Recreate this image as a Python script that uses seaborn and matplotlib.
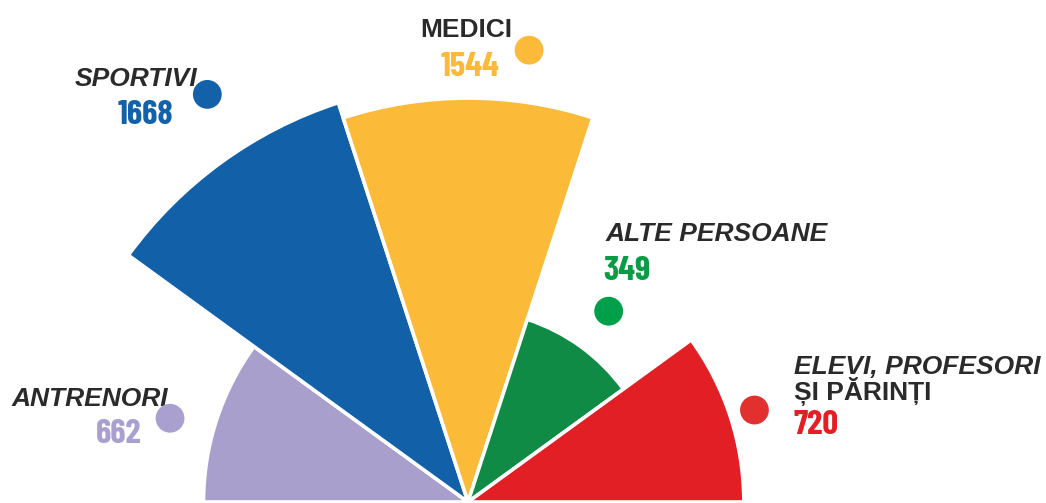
import numpy as np
import matplotlib
matplotlib.use("Agg")
import matplotlib.pyplot as plt
import seaborn as sns

# ---- data ----
categories = ["ANTRENORI", "SPORTIVI", "MEDICI", "ALTE PERSOANE", "ELEVI, PROFESORI"]
second_line = ["", "", "", "", "ȘI PĂRINȚI"]
values = [662, 1668, 1544, 349, 720]

# ---- style ----
wedge_colors = ["#A89FCD", "#1160A8", "#FBBA38", "#0F8B45", "#E31F26"]
dot_colors = ["#A9A0CF", "#1361A9", "#FBBA3A", "#00A04B", "#E2302F"]
num_colors = ["#A9A0CF", "#1361A9", "#FBBA3A", "#0A9B45", "#E31E24"]
name_italic = [True, True, False, True, True]
dot_angle_deg = [164.3, 122.6, 82.3, 53.6, 17.8]
dot_pad_px = [45, 64, 52, 45, 25]
# label offsets from dot (px, right/down): name, value
name_off = [(-2, -12), (-10, -8), (-17, -13), (-3, -70), (40, -36)]
val_off = [(-28, 25), (-34, 30), (-30, 26), (-5, -31), (39, 24)]
line2_off = (40, -10)
ha_list = ["right", "right", "right", "left", "left"]

sns.set_theme(style="white")
plt.rcParams["font.family"] = ["Liberation Sans", "DejaVu Sans"]

W, H, DPI = 1046, 503, 100
fig = plt.figure(figsize=(W / DPI, H / DPI), dpi=DPI)
fig.patch.set_facecolor("white")

cx, cy_top = 468, 502
cy = H - cy_top
px_per_unit = 10.28
rmax_units = 50
Rax = rmax_units * px_per_unit
ax = fig.add_axes([(cx - Rax) / W, (cy - Rax) / H, 2 * Rax / W, 2 * Rax / H],
                  projection="polar")
ax.set_ylim(0, rmax_units)
ax.set_axis_off()

n = len(values)
width = np.pi / n
thetas = np.pi - width * (np.arange(n) + 0.5)
radii = np.sqrt(np.array(values, dtype=float))

ax.bar(thetas, radii, width=width, bottom=0, color=wedge_colors,
       edgecolor="white", linewidth=2.6, align="center", zorder=2)

dot_r = radii + np.array(dot_pad_px) / px_per_unit
dot_t = np.deg2rad(dot_angle_deg)
ax.scatter(dot_t, dot_r, s=430, color=dot_colors, clip_on=False, zorder=5,
           linewidths=0)

px2pt = 72 / DPI
num_family = ["Barlow Condensed", "DejaVu Sans"]
for i in range(n):
    ha = ha_list[i]
    ax.annotate(categories[i], xy=(dot_t[i], dot_r[i]),
                xytext=(name_off[i][0] * px2pt, -name_off[i][1] * px2pt),
                textcoords="offset points", ha=ha, va="baseline",
                fontsize=19, fontweight="bold",
                fontstyle="italic" if name_italic[i] else "normal",
                color="#2A2A2A", annotation_clip=False)
    if second_line[i]:
        ax.annotate(second_line[i], xy=(dot_t[i], dot_r[i]),
                    xytext=(line2_off[0] * px2pt, -line2_off[1] * px2pt),
                    textcoords="offset points", ha=ha, va="baseline",
                    fontsize=19, fontweight="bold", color="#2A2A2A",
                    annotation_clip=False)
    ax.annotate(str(values[i]), xy=(dot_t[i], dot_r[i]),
                xytext=(val_off[i][0] * px2pt, -val_off[i][1] * px2pt),
                textcoords="offset points", ha=ha, va="baseline",
                fontsize=25, fontweight="bold", family=num_family,
                color=num_colors[i], annotation_clip=False)

fig.savefig("out.png", dpi=DPI, facecolor="white")
